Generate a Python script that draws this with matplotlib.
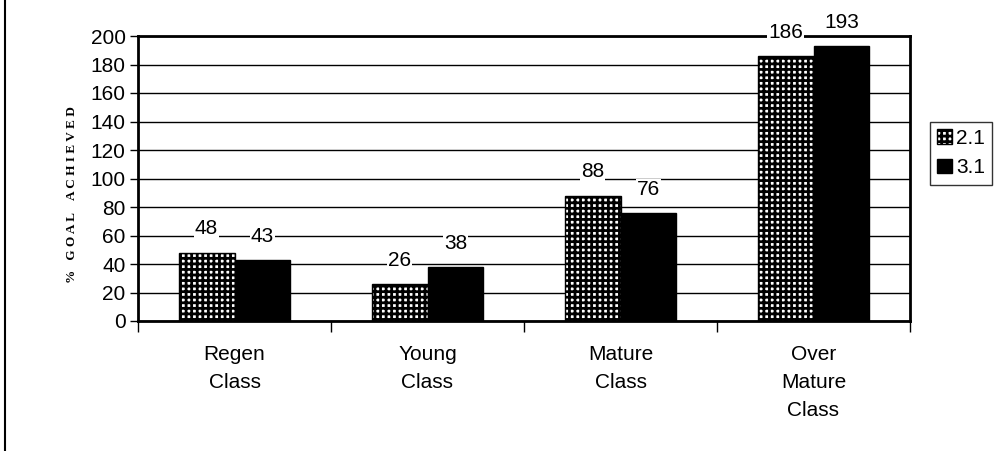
import matplotlib
matplotlib.use("Agg")
import matplotlib.pyplot as plt
from matplotlib.patches import Patch
from matplotlib.lines import Line2D
import numpy as np

categories = ["Regen\nClass", "Young\nClass", "Mature\nClass", "Over\nMature\nClass"]
series_names = ["2.1", "3.1"]
values_21 = [48, 26, 88, 186]
values_31 = [43, 38, 76, 193]
y_ticks = [0, 20, 40, 60, 80, 100, 120, 140, 160, 180, 200]

plt.rcParams["font.family"] = ["Liberation Sans", "DejaVu Sans"]
plt.rcParams["hatch.linewidth"] = 2.0

fig = plt.figure(figsize=(10.02, 4.51), dpi=100)
ax = fig.add_axes([138 / 1002, 1 - 321 / 451, (910 - 138) / 1002, (321 - 36) / 451])

x = np.arange(len(categories))
w = 0.29
fs = 15

ax.set_axisbelow(True)
ax.yaxis.grid(True, color="black", linewidth=1.0)

b1 = ax.bar(x - w / 2, values_21, w, facecolor="white", edgecolor="black",
            hatch="+++", linewidth=1.0)
b2 = ax.bar(x + w / 2, values_31, w, facecolor="black", edgecolor="black", linewidth=1.0)

for bars, vals in ((b1, values_21), (b2, values_31)):
    for rect, v in zip(bars, vals):
        ax.annotate(str(v), (rect.get_x() + rect.get_width() / 2, v),
                    xytext=(0, 17), textcoords="offset points",
                    ha="center", va="center", fontsize=fs,
                    bbox=dict(facecolor="white", edgecolor="none", pad=0.5))

ax.set_xlim(-0.5, len(categories) - 0.5)
ax.set_ylim(0, 200)
ax.set_yticks(y_ticks)
ax.set_yticklabels([str(t) for t in y_ticks], fontsize=fs)
ax.tick_params(axis="y", direction="out", length=6, width=1.0, pad=3)

ax.set_xticks(x)
ax.set_xticklabels(categories, fontsize=fs, linespacing=1.6)
ax.tick_params(axis="x", which="major", length=0, pad=17)
ax.set_xticks(np.arange(len(categories) + 1) - 0.5, minor=True)
ax.tick_params(axis="x", which="minor", direction="out", length=8, width=1.0)

for side in ("top", "right", "left", "bottom"):
    ax.spines[side].set_linewidth(2.0)
    ax.spines[side].set_color("black")

fig.text(72 / 1002, 1 - 195 / 451, "%   G O A L    A C H I E V E D",
         rotation=90, ha="center", va="center", fontsize=9.5,
         fontweight="bold", family=["Liberation Serif", "DejaVu Serif"])

handles = [Patch(facecolor="white", edgecolor="black", hatch="+++", label=series_names[0]),
           Patch(facecolor="black", edgecolor="black", label=series_names[1])]
leg = fig.legend(handles=handles, loc="center left",
                 bbox_to_anchor=(930 / 1002, 1 - 153 / 451), fontsize=fs,
                 frameon=True, fancybox=False, edgecolor="black",
                 handlelength=0.7, handleheight=0.7, handletextpad=0.2,
                 borderpad=0.35, labelspacing=0.5, borderaxespad=0)
leg.get_frame().set_linewidth(1.0)

fig.add_artist(Line2D([5 / 1002, 5 / 1002], [0, 1], color="black", linewidth=1.5))

fig.savefig("out.png", dpi=100)
